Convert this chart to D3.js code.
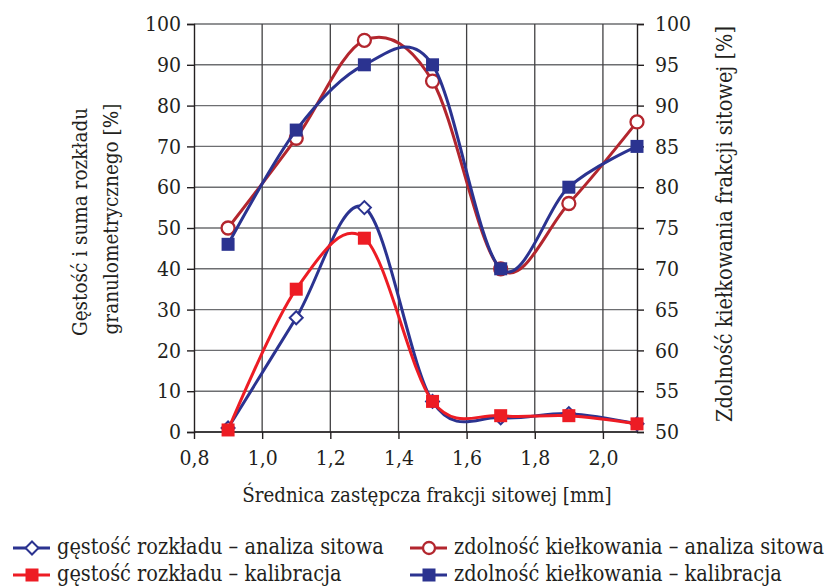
<!DOCTYPE html>
<html><head><meta charset="utf-8">
<script src="https://cdn.jsdelivr.net/npm/d3@7"></script>
<style>body{margin:0;background:#fff}svg{display:block}svg text{font-family:"DejaVu Serif Condensed","DejaVu Serif",serif;font-stretch:condensed;fill:#231f20}</style>
</head><body>
<script>
const xValues = [0.9, 1.1, 1.3, 1.5, 1.7, 1.9, 2.1];
const gestoscAnaliza = [1, 28, 55, 7.5, 3.5, 4.5, 2];
const gestoscKalibracja = [0.5, 35, 47.5, 7.5, 4, 4, 2];
const zdolnoscAnaliza = [75, 86, 98, 93, 70, 78, 88];
const zdolnoscKalibracja = [73, 87, 95, 95, 70, 80, 85];
const xTicks = [0.8, 1.0, 1.2, 1.4, 1.6, 1.8, 2.0];
const yLeftTicks = [0,10,20,30,40,50,60,70,80,90,100];
const yRightTicks = [50,55,60,65,70,75,80,85,90,95,100];
const legendLabels = ["gęstość rozkładu – analiza sitowa","gęstość rozkładu – kalibracja","zdolność kiełkowania – analiza sitowa","zdolność kiełkowania – kalibracja"];

const W=831,H=588;
const svg=d3.select("body").append("svg").attr("width",W).attr("height",H);
const x=d3.scaleLinear().domain([0.8,2.1]).range([194,637]);
const yL=d3.scaleLinear().domain([0,100]).range([432,24]);
const yR=d3.scaleLinear().domain([50,100]).range([432,24]);

const BLUE="#2b3390", RED="#ed1c24", DRED="#b3262e";
const FAM='"DejaVu Serif Condensed","DejaVu Serif",serif';
function ff(sel,size){sel.attr("font-family",FAM).style("font-family",FAM).style("font-stretch","condensed").style("font-size",size).attr("fill","#231f20");return sel;}

// grid
const g=svg.append("g");
g.selectAll(".hg").data(yLeftTicks).join("line").attr("x1",194).attr("x2",637)
 .attr("y1",d=>yL(d)).attr("y2",d=>yL(d)).attr("stroke","#6d6e71").attr("stroke-width",1.4);
g.selectAll(".vg").data(xTicks.slice(1)).join("line").attr("y1",24).attr("y2",432)
 .attr("x1",d=>x(d)).attr("x2",d=>x(d)).attr("stroke","#414042").attr("stroke-width",1.3);

// axes
const ax=svg.append("g").attr("transform","translate(0,432)")
 .call(d3.axisBottom(x).tickValues(xTicks).tickSize(7).tickPadding(6).tickFormat(d=>d3.format(".1f")(d).replace(".",",")));
const al=svg.append("g").attr("transform","translate(194,0)")
 .call(d3.axisLeft(yL).tickValues(yLeftTicks).tickSize(7).tickPadding(6));
const ar=svg.append("g").attr("transform","translate(637,0)")
 .call(d3.axisRight(yR).tickValues(yRightTicks).tickSize(7).tickPadding(11));
[ax,al,ar].forEach(a=>{
 a.select(".domain").attr("stroke","#231f20").attr("stroke-width",1.4);
 a.selectAll(".tick line").attr("stroke","#231f20").attr("stroke-width",1.4);
 ff(a.selectAll("text"),"21px");});
ax.select(".domain").remove();
svg.append("line").attr("x1",194).attr("x2",637).attr("y1",432).attr("y2",432).attr("stroke","#231f20").attr("stroke-width",1.4);
ax.selectAll("text").attr("dy","0.95em");

// titles
ff(svg.append("text").attr("x",427).attr("y",502).attr("text-anchor","middle"),"20.3px").text("Średnica zastępcza frakcji sitowej [mm]");
ff(svg.append("text").attr("transform","translate(87,222) rotate(-90)").attr("text-anchor","middle"),"20.5px").text("Gęstość i suma rozkładu");
ff(svg.append("text").attr("transform","translate(118,219) rotate(-90)").attr("text-anchor","middle"),"20.5px").text("granulometrycznego [%]");
ff(svg.append("text").attr("transform","translate(732,224) rotate(-90)").attr("text-anchor","middle"),"21.5px").text("Zdolność kiełkowania frakcji sitowej [%]");

const curve=d3.curveCardinal.tension(0);
function series(vals, ys, color){
  const line=d3.line().x((d,i)=>x(xValues[i])).y(d=>ys(d)).curve(curve);
  svg.append("path").datum(vals).attr("d",line).attr("fill","none").attr("stroke",color).attr("stroke-width",3);
}
function markers(vals, ys, type, color){
  const gr=svg.append("g");
  vals.forEach((v,i)=>{
    const cx=x(xValues[i]), cy=ys(v);
    if(type==="diamond"){ gr.append("path").attr("d",`M${cx},${cy-6.5}L${cx+6.5},${cy}L${cx},${cy+6.5}L${cx-6.5},${cy}Z`).attr("fill","#fff").attr("stroke",color).attr("stroke-width",2); }
    else if(type==="circle"){ gr.append("circle").attr("cx",cx).attr("cy",cy).attr("r",6.5).attr("fill","#fff").attr("stroke",color).attr("stroke-width",2.3); }
    else { gr.append("rect").attr("x",cx-6.5).attr("y",cy-6.5).attr("width",13).attr("height",13).attr("fill",color); }
  });
}
series(gestoscAnaliza,yL,BLUE); markers(gestoscAnaliza,yL,"diamond",BLUE);
series(gestoscKalibracja,yL,RED); markers(gestoscKalibracja,yL,"square",RED);
series(zdolnoscAnaliza,yR,DRED); markers(zdolnoscAnaliza,yR,"circle",DRED);
series(zdolnoscKalibracja,yR,BLUE); markers(zdolnoscKalibracja,yR,"square",BLUE);

// legend
const leg=[{t:legendLabels[0],c:BLUE,m:"diamond",x:13,y:548},{t:legendLabels[1],c:RED,m:"square",x:13,y:575},
 {t:legendLabels[2],c:DRED,m:"circle",x:410,y:548},{t:legendLabels[3],c:BLUE,m:"square",x:410,y:575}];
leg.forEach(l=>{
  svg.append("line").attr("x1",l.x).attr("x2",l.x+37).attr("y1",l.y).attr("y2",l.y).attr("stroke",l.c).attr("stroke-width",3);
  const cx=l.x+19, cy=l.y;
  if(l.m==="diamond") svg.append("path").attr("d",`M${cx},${cy-6.5}L${cx+6.5},${cy}L${cx},${cy+6.5}L${cx-6.5},${cy}Z`).attr("fill","#fff").attr("stroke",l.c).attr("stroke-width",2);
  else if(l.m==="circle") svg.append("circle").attr("cx",cx).attr("cy",cy).attr("r",6).attr("fill","#fff").attr("stroke",l.c).attr("stroke-width",2.3);
  else svg.append("rect").attr("x",cx-6.5).attr("y",cy-6.5).attr("width",13).attr("height",13).attr("fill",l.c);
  ff(svg.append("text").attr("x",l.x+44).attr("y",l.y+6),"21.5px").text(l.t);
});
</script>
</body></html>
